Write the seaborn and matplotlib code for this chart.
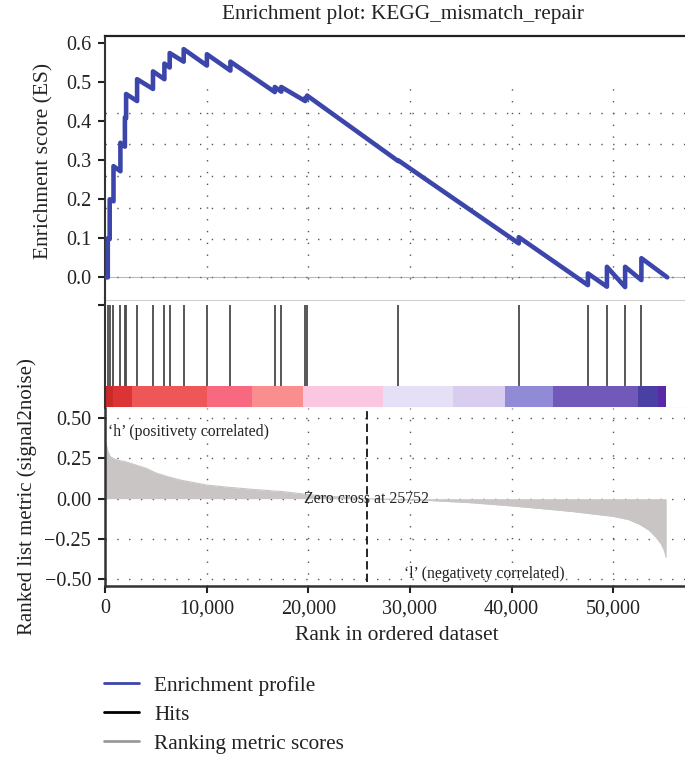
import numpy as np
import matplotlib
matplotlib.use("Agg")
import matplotlib.pyplot as plt
from matplotlib.lines import Line2D
import seaborn as sns

# ---------------- data ----------------
title = "Enrichment plot: KEGG_mismatch_repair"

hit_ranks = [275, 462, 836, 1515, 1957, 2075, 3157, 4721, 5843, 6364, 7740,
             10022, 12334, 16700, 17340, 19690, 19880, 28840, 40700, 47500,
             49370, 51160, 52760]
es_before = [0.0, 0.098, 0.195, 0.272, 0.335, 0.408, 0.452, 0.483, 0.508, 0.538,
             0.553, 0.543, 0.530, 0.475, 0.476, 0.452, 0.457, 0.298, 0.087,
             -0.020, -0.024, -0.025, -0.007]
es_after = [0.100, 0.200, 0.285, 0.345, 0.410, 0.470, 0.508, 0.528, 0.548, 0.575,
            0.585, 0.572, 0.553, 0.488, 0.488, 0.460, 0.466, 0.300, 0.103,
            0.010, 0.027, 0.027, 0.049]
es_start = (0, 0.0)
es_end = (55300, 0.0)

metric_rank = [0, 100, 250, 500, 800, 1200, 2000, 3000, 4000, 5000, 6000, 7400,
               10000, 12000, 14500, 17500, 19800, 22000, 25752, 28000, 31600,
               36000, 40000, 43000, 46000, 48000, 50000, 51500, 52600, 53500,
               54200, 54700, 55000, 55200]
metric_val = [0.365, 0.345, 0.30, 0.262, 0.25, 0.24, 0.23, 0.21, 0.19, 0.16, 0.14,
              0.116, 0.085, 0.072, 0.058, 0.044, 0.027, 0.015, 0.0, -0.004,
              -0.010, -0.025, -0.045, -0.062, -0.080, -0.095, -0.110, -0.130,
              -0.160, -0.195, -0.240, -0.280, -0.320, -0.365]

zero_cross = 25752

cbar_edges = [0, 800, 2620, 10030, 14430, 19440, 27380, 34270, 39350, 44110,
              52470, 54440, 55200]
cbar_colors = ['#c92a2a', '#dc3434', '#ee5757', '#f8697f', '#fa8e8f', '#fbc6df',
               '#e5e0f6', '#d8cdef', '#918ad6', '#7059b8', '#4a3fa2', '#5a2aa6']

x_ticks = [0, 10000, 20000, 30000, 40000, 50000]
x_tick_labels = ["0", "10,000", "20,000", "30,000", "40,000", "50,000"]
es_ticks = [0.0, 0.1, 0.2, 0.3, 0.4, 0.5, 0.6]
es_tick_labels = ["0.0", "0.1", "0.2", "0.3", "0.4", "0.5", "0.6"]
metric_ticks = [0.5, 0.25, 0.0, -0.25, -0.5]
metric_tick_labels = ["0.50", "0.25", "0.00", "\u22120.25", "\u22120.50"]

legend_labels = ["Enrichment profile", "Hits", "Ranking metric scores"]

# ---------------- style ----------------
sns.set_style("white")
plt.rcParams['font.family'] = ['Liberation Serif', 'DejaVu Serif']

ES_COLOR = '#3c46aa'
HIT_COLOR = '#4a4a4a'
FILL_COLOR = '#c9c5c5'
SPINE = '#333333'
DOT = (0, (1, 7.5))

W, H = 685, 759
fig = plt.figure(figsize=(W / 100, H / 100), dpi=100)

def frac(x0, y_top, x1, y_bot):
    return [x0 / W, 1 - y_bot / H, (x1 - x0) / W, (y_bot - y_top) / H]

XMAX = 57050
ax1 = fig.add_axes(frac(105, 35.7, 685, 298))
ax2 = fig.add_axes(frac(105, 298, 685, 408))
ax3 = fig.add_axes(frac(105, 408, 685, 585.5))

# ---------------- top: running ES ----------------
es_x = [es_start[0]]
es_y = [es_start[1]]
for r, b, a in zip(hit_ranks, es_before, es_after):
    es_x += [r, r]
    es_y += [b, a]
es_x.append(es_end[0])
es_y.append(es_end[1])

ax1.set_xlim(0, XMAX)
ax1.set_ylim(-0.053, 0.6195)
for gy in [0.0974, 0.179, 0.26, 0.342, 0.422]:
    ax1.axhline(gy, color='#555555', lw=1.0, ls=DOT, zorder=1)
ax1.axhline(0.0, color='#bbbbbb', lw=0.8, zorder=1)
ax1.axhline(0.0, color='#666666', lw=1.0, ls=DOT, zorder=1)
ax1.vlines(x_ticks[1:], -0.005, 0.508, color='#555555', lw=1.0, linestyles=[DOT], zorder=1)
sns.lineplot(x=es_x, y=es_y, ax=ax1, color=ES_COLOR, lw=3.3, sort=False,
             estimator=None, zorder=3)
ax1.set_yticks(es_ticks)
ax1.set_yticklabels(es_tick_labels)
ax1.set_xticks([])
ax1.set_ylabel("")
for s in ['right', 'bottom']:
    ax1.spines[s].set_visible(False)
ax1.spines['left'].set_color(SPINE)
ax1.spines['left'].set_linewidth(1.5)
ax1.spines['top'].set_color('#222222')
ax1.spines['top'].set_linewidth(1.6)

# ---------------- middle: hits + colour bar ----------------
ax2.set_xlim(0, XMAX)
ax2.set_ylim(0, 1)
ax2.bar(x=cbar_edges[:-1], height=0.191, width=np.diff(cbar_edges), bottom=0.009,
        align='edge', color=cbar_colors, linewidth=0)
ax2.vlines(hit_ranks, 0.2, 0.936, color=HIT_COLOR, lw=1.3)
ax2.axhline(0.98, color='#d0d0d0', lw=0.8)
ax2.axhline(0.004, color='#c8c8c8', lw=0.8)
ax2.set_xticks([])
ax2.set_yticks([0.936])
ax2.set_yticklabels([""])
for s in ['right', 'bottom', 'top']:
    ax2.spines[s].set_visible(False)
ax2.spines['left'].set_color(SPINE)
ax2.spines['left'].set_linewidth(1.5)

# ---------------- bottom: ranked metric ----------------
ax3.set_xlim(0, XMAX)
ax3.set_ylim(-0.540, 0.564)
ax3.fill_between(metric_rank, metric_val, 0, color=FILL_COLOR, lw=0, zorder=2)
sns.lineplot(x=metric_rank, y=metric_val, ax=ax3, color=FILL_COLOR, lw=0.8,
             sort=False, estimator=None, zorder=2)
ax3.set_xticks(x_ticks)
ax3.set_xticklabels(x_tick_labels)
ax3.set_yticks(metric_ticks)
ax3.set_yticklabels(metric_tick_labels)
ax3.grid(True, color='#555555', lw=1.0, ls=DOT, zorder=1)
ax3.set_axisbelow(True)
ax3.axvline(zero_cross, ymin=0.02, ymax=0.985, color='black', lw=1.2,
            ls=(0, (5, 2.5)), zorder=4)
ax3.text(zero_cross, 0.0, "Zero cross at 25752", ha='center', va='center',
         fontsize=11.3, color='#222222', zorder=5)
ax3.text(300, 0.415, "\u2018h\u2019 (positivety correlated)", ha='left', va='center',
         fontsize=11.3, color='#222222', zorder=5)
ax3.text(37300, -0.470, "\u2018l\u2019 (negativety correlated)", ha='center', va='center',
         fontsize=11.3, color='#222222', zorder=5)
ax3.set_ylabel("")
ax3.set_xlabel("")
for s in ['right', 'top']:
    ax3.spines[s].set_visible(False)
for s in ['left', 'bottom']:
    ax3.spines[s].set_color(SPINE)
    ax3.spines[s].set_linewidth(1.8)

for ax in (ax1, ax2, ax3):
    ax.tick_params(axis='both', which='major', direction='out', length=5, width=1.5,
                   color='#222222', labelsize=14.5, labelcolor='#222222', pad=5,
                   left=True, bottom=(ax is ax3))

# ---------------- text ----------------
fig.text(403 / W, 1 - 14 / H, title, ha='center', va='center', fontsize=15.3,
         color='#222222')
fig.text(44 / W, 1 - 161 / H, "Enrichment score (ES)", rotation=90, ha='center',
         va='center', fontsize=15.5, color='#222222')
fig.text(27 / W, 1 - 497 / H, "Ranked list metric (signal2noise)", rotation=90,
         ha='center', va='center', fontsize=15, color='#222222')
fig.text(397 / W, 1 - 635 / H, "Rank in ordered dataset", ha='center', va='center',
         fontsize=15.5, color='#222222')

handles = [Line2D([], [], color=ES_COLOR, lw=2),
           Line2D([], [], color='black', lw=2),
           Line2D([], [], color='#9a9a9a', lw=2)]
fig.legend(handles, legend_labels, loc='upper left',
           bbox_to_anchor=(104 / W, 1 - 676 / H), frameon=False, fontsize=15.3,
           handlelength=1.65, handletextpad=0.7, labelspacing=0.42,
           borderpad=0, borderaxespad=0, labelcolor='#222222')

fig.savefig("out.png", dpi=100)
